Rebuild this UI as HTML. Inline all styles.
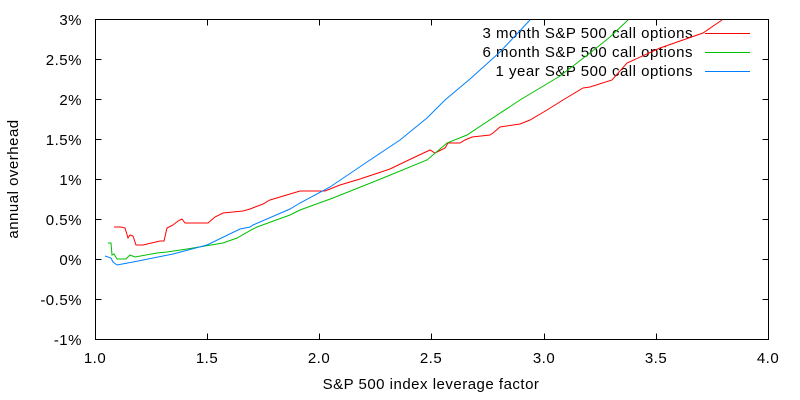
<!DOCTYPE html>
<html><head><meta charset="utf-8"><style>html,body{margin:0;padding:0;background:#fff}svg{display:block}text{font-family:"Liberation Sans",sans-serif;font-size:15px;letter-spacing:0.5px;fill:#000}</style></head><body>
<svg width="800" height="400" xmlns="http://www.w3.org/2000/svg">
<g stroke="#000" stroke-width="1" fill="none">
<rect x="95.5" y="19.5" width="673" height="320"/>
<path d="M95.5 59.5h6M95.5 99.5h6M95.5 139.5h6M95.5 179.5h6M95.5 219.5h6M95.5 259.5h6M95.5 299.5h6M768.5 59.5h-6M768.5 99.5h-6M768.5 139.5h-6M768.5 179.5h-6M768.5 219.5h-6M768.5 259.5h-6M768.5 299.5h-6"/>
<path d="M207.5 339.5v-6M319.5 339.5v-6M431.5 339.5v-6M544.5 339.5v-6M656.5 339.5v-6M207.5 19.5v6M319.5 19.5v6M431.5 19.5v6M544.5 19.5v6M656.5 19.5v6"/>
</g>
<g text-anchor="end">
<text x="82" y="25">3%</text><text x="82" y="65">2.5%</text><text x="82" y="105">2%</text><text x="82" y="145">1.5%</text><text x="82" y="185">1%</text><text x="82" y="225">0.5%</text><text x="82" y="265">0%</text><text x="82" y="305">-0.5%</text><text x="82" y="345">-1%</text>
</g>
<g text-anchor="middle">
<text x="95" y="363">1.0</text><text x="207" y="363">1.5</text><text x="319" y="363">2.0</text><text x="431" y="363">2.5</text><text x="544" y="363">3.0</text><text x="656" y="363">3.5</text><text x="768" y="363">4.0</text>
<text x="431" y="389">S&amp;P 500 index leverage factor</text>
<text transform="translate(18,179) rotate(-90)">annual overhead</text>
</g>
<g text-anchor="end">
<text x="693" y="38">3 month S&amp;P 500 call options</text>
<text x="693" y="57">6 month S&amp;P 500 call options</text>
<text x="693" y="76">1 year S&amp;P 500 call options</text>
</g>
<g fill="none" stroke-width="1">
<path stroke="#ff0000" d="M705 33.5h45"/>
<path stroke="#00c000" d="M705 52.5h45"/>
<path stroke="#0080ff" d="M705 71.5h45"/>
<polyline stroke="#ff0000" points="114,227 121,227 125,228 128,238 130,235 133,236 136,245 143,245 160,241 164,241 167,228 173,225 178,221 182,219 185,223 208,223 215,217 223,213 243,211 250,209 263,204 270,200 290,194 300,191 325,191 340,185 360,179 390,169 415,157 430,150 435,153 445,148 448,143 460,143 465,140 472,137 490,135 493,133 500,127 520,124 530,120 547,110 563,100 583,88 590,87 612,80 627,63 660,48 703,33 722,20"/>
<polyline stroke="#00c000" points="108,243 111,243 112,255 114,254 117,259 126,259 130,255 135,257 157,253 167,252 187,249 223,243 237,238 253,229 257,227 290,215 300,210 333,198 383,178 427,160 447,143 467,135 520,100 560,76 590,53 610,37 628,20"/>
<polyline stroke="#0080ff" points="105,256 111,258 113,262 117,265 133,262 173,254 207,245 240,229 250,227 253,225 290,209 300,203 330,187 367,162 400,140 427,118 445,100 470,79 500,52 530,20"/>
</g>
</svg>
</body></html>
